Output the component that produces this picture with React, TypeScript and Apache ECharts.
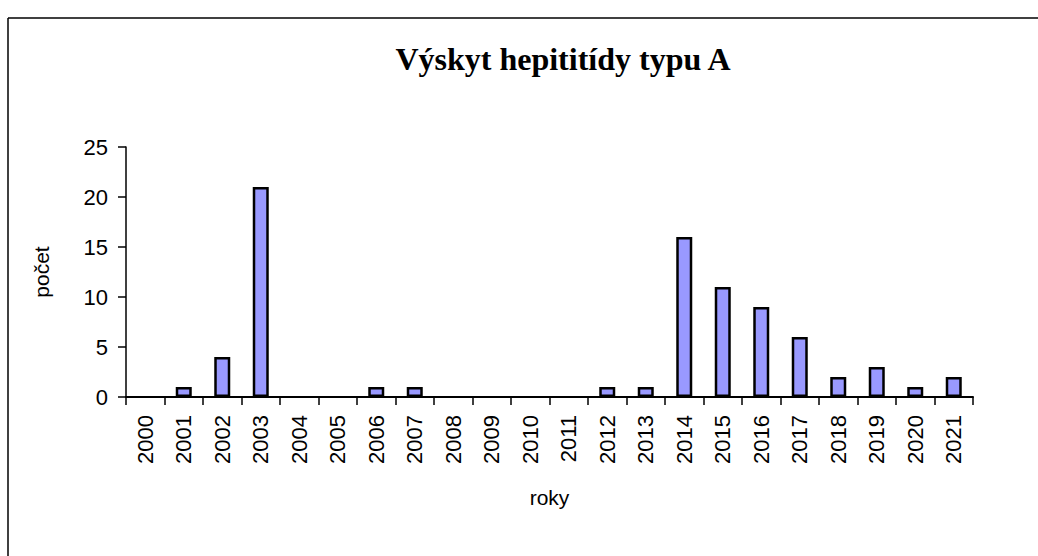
import React, { useEffect, useRef } from "react";
import * as echarts from "echarts";

const years = ["2000","2001","2002","2003","2004","2005","2006","2007","2008","2009","2010","2011","2012","2013","2014","2015","2016","2017","2018","2019","2020","2021"];
const counts = [0, 1, 4, 21, 0, 0, 1, 1, 0, 0, 0, 0, 1, 1, 16, 11, 9, 6, 2, 3, 1, 2];
const titleText = "Výskyt hepititídy typu A";
const yName = "počet";
const xName = "roky";

export default function App() {
  const ref = useRef<HTMLDivElement>(null);
  useEffect(() => {
    if (!ref.current) return;
    const chart = echarts.init(ref.current, null, { renderer: "svg" });
    chart.setOption({
      animation: false,
      backgroundColor: "#ffffff",
      title: {
        text: titleText,
        left: 558,
        top: 38,
        textAlign: "center",
        textStyle: { fontFamily: "Liberation Serif", fontWeight: "bold", fontSize: 32, color: "#000" },
      },
      graphic: [
        { type: "line", shape: { x1: 8, y1: 18, x2: 1038, y2: 18 }, style: { stroke: "#000", lineWidth: 1.5 } },
        { type: "line", shape: { x1: 8, y1: 18, x2: 8, y2: 556 }, style: { stroke: "#000", lineWidth: 1.5 } },
      ],
      grid: { left: 126, right: 65, top: 147, bottom: 159, containLabel: false, outerBoundsMode: "none" },
      xAxis: {
        type: "category",
        data: years,
        name: xName,
        nameLocation: "middle",
        nameGap: 90,
        nameTextStyle: { fontFamily: "Liberation Sans", fontSize: 21, color: "#000" },
        axisLine: { lineStyle: { color: "#000", width: 2 } },
        axisTick: { show: true, length: 8, lineStyle: { color: "#000", width: 1.5 }, interval: 0 },
        axisLabel: { rotate: 90, interval: 0, margin: 18, fontFamily: "Liberation Sans", fontSize: 22, color: "#000" },
        splitLine: { show: false },
      },
      yAxis: {
        type: "value",
        min: 0,
        max: 25,
        interval: 5,
        name: yName,
        nameLocation: "middle",
        nameGap: 74,
        nameRotate: 90,
        nameTextStyle: { fontFamily: "Liberation Sans", fontSize: 21, color: "#000" },
        axisLine: { show: true, lineStyle: { color: "#000", width: 1.5 } },
        axisTick: { show: true, length: 8, lineStyle: { color: "#000", width: 1.5 } },
        axisLabel: { margin: 18, fontFamily: "Liberation Sans", fontSize: 22, color: "#000" },
        splitLine: { show: false },
      },
      series: [
        {
          type: "bar",
          data: counts.map((v) => (v === 0 ? "-" : v)),
          barWidth: 16,
          itemStyle: { color: "#9999FF", borderColor: "#000", borderWidth: 2.5 },
        },
      ],
    });
    return () => chart.dispose();
  }, []);
  return <div ref={ref} style={{ position: "fixed", left: 0, top: 0, width: 1038, height: 556 }} />;
}
